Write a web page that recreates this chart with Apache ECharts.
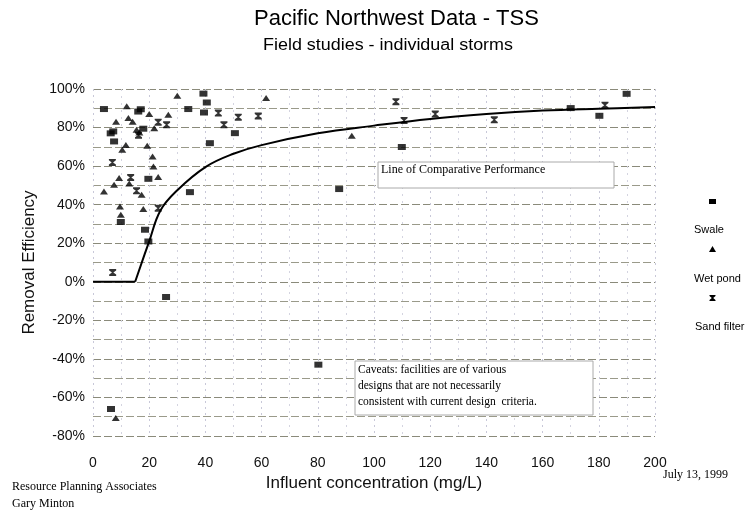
<!DOCTYPE html>
<html>
<head>
<meta charset="utf-8">
<script src="https://cdn.jsdelivr.net/npm/echarts@6/dist/echarts.min.js"></script>
<style>
  html, body { margin: 0; padding: 0; background: #fff; }
  #chart { width: 749px; height: 511px; }
</style>
</head>
<body>
<div id="chart"></div>
<script>
// x tick labels run 0..200 step 20, y ticks -80%..100% step 20
const xTicks = [0, 20, 40, 60, 80, 100, 120, 140, 160, 180, 200]
const yTicks = [-80, -60, -40, -20, 0, 20, 40, 60, 80, 100]

// [influent mg/L, removal %]
const swale = [
  [3.9, 89.6], [16.1, 88.3], [17.0, 89.5], [33.9, 89.6], [39.3, 97.6], [40.5, 93],
  [39.5, 87.8], [17.9, 79.4], [7.2, 78], [6.3, 77], [7.5, 72.8], [41.6, 71.9],
  [50.5, 77.1], [19.7, 53.4], [34.5, 46.5], [9.9, 31.0], [18.5, 27], [19.7, 20.9],
  [26, -7.9], [87.6, 48.1], [109.9, 69.9], [170, 90.1], [180.2, 86.1], [189.9, 97.5],
  [80.2, -43], [6.4, -66]
]

const wetPond = [
  [30.0, 96.5], [12.0, 91], [20.0, 87], [26.8, 86.6], [8.2, 83], [12.6, 85],
  [14.1, 83], [21.8, 79.7], [15.5, 78.8], [16.5, 77.4], [11.7, 71], [10.4, 68.5],
  [19.3, 70.5], [21.2, 65], [21.5, 59.8], [9.3, 53.8], [7.5, 50.3], [12.9, 51],
  [23.2, 54.3], [3.9, 46.8], [17.3, 45.1], [9.6, 39.1], [17.9, 37.7], [9.9, 34.8],
  [61.6, 95.3], [92.1, 75.7], [8.1, -70.7]
]

const sandFilter = [
  [23.2, 82.8], [26.2, 81.4], [16.2, 76], [6.9, 61.9], [13.4, 54.1], [15.5, 47.2],
  [23.2, 38.2], [7.0, 4.8], [44.6, 87.5], [51.7, 85.4], [58.8, 86], [46.6, 81.4],
  [107.8, 93.4], [110.7, 83.7], [121.8, 87], [142.8, 84], [182.2, 91.6]
]

// line of comparative performance
const comparativeFlat = [[0, 0], [15, 0]]
const comparativeCurve = [
  [15, 0], [20, 21], [24, 37], [30, 47.5], [40, 59.5], [50, 66.4], [60, 70.9],
  [80, 77], [100, 81], [120, 84.5], [140, 87], [160, 88.8], [180, 89.8], [200, 90.6]
]

const hourglass = 'path://M0,0H10V2L6,5L10,8V10H0V8L4,5L0,2Z'
const serif = '"Liberation Serif", "DejaVu Serif", serif'
const sans = '"Liberation Sans", Arial, sans-serif'

const chart = echarts.init(document.getElementById('chart'))

chart.setOption({
  backgroundColor: '#fff',
  animation: false,
  textStyle: { fontFamily: sans },
  grid: { left: 93, right: 94, top: 89, bottom: 75 },
  xAxis: {
    type: 'value',
    min: xTicks[0],
    max: xTicks[xTicks.length - 1],
    interval: 20,
    name: 'Influent concentration (mg/L)',
    nameLocation: 'middle',
    nameGap: 33,
    nameTextStyle: { fontSize: 17, color: '#111', fontFamily: sans },
    axisLine: { show: false },
    axisTick: { show: false },
    axisLabel: { fontSize: 14, color: '#111', margin: 20 },
    splitLine: { lineStyle: { color: '#c8c8d8', type: [2, 4] } },
    minorTick: { show: false, splitNumber: 2 },
    minorSplitLine: { show: true, lineStyle: { color: '#d4d4e0', type: [2, 5] } }
  },
  yAxis: {
    type: 'value',
    min: yTicks[0],
    max: yTicks[yTicks.length - 1],
    interval: 20,
    name: 'Removal Efficiency',
    nameLocation: 'middle',
    nameGap: 37,
    nameTextStyle: { fontSize: 17, color: '#111', fontFamily: sans },
    axisLine: { show: false },
    axisTick: { show: false },
    axisLabel: { fontSize: 14, color: '#111', margin: 8, formatter: '{value}%' },
    splitLine: { lineStyle: { color: '#8a8a7a', type: [8, 3] } },
    minorTick: { show: false, splitNumber: 2 },
    minorSplitLine: { show: true, lineStyle: { color: '#9a9a8a', type: [8, 3] } }
  },
  series: [
    {
      name: 'Line of Comparative Performance',
      type: 'line',
      data: comparativeFlat,
      showSymbol: false,
      lineStyle: { color: '#000', width: 2 },
      z: 2
    },
    {
      name: 'Line of Comparative Performance',
      type: 'line',
      data: comparativeCurve,
      smooth: 0.4,
      showSymbol: false,
      lineStyle: { color: '#000', width: 2 },
      z: 2
    },
    {
      name: 'Swale',
      type: 'scatter',
      data: swale,
      symbol: 'rect',
      symbolSize: [8, 6],
      itemStyle: { color: '#000' },
      z: 3
    },
    {
      name: 'Wet pond',
      type: 'scatter',
      data: wetPond,
      symbol: 'triangle',
      symbolSize: [8, 6],
      itemStyle: { color: '#000' },
      z: 3
    },
    {
      name: 'Sand filter',
      type: 'scatter',
      data: sandFilter,
      symbol: hourglass,
      symbolSize: [7, 7],
      itemStyle: { color: '#000' },
      z: 3
    }
  ],
  graphic: [
    // titles
    {
      type: 'text', x: 254, y: 8,
      style: { text: 'Pacific Northwest Data - TSS', font: '22px ' + sans, fill: '#000' }
    },
    {
      type: 'text', x: 263, y: 38, scaleX: 1.12,
      style: { text: 'Field studies - individual storms', font: '16px ' + sans, fill: '#000' }
    },
    // annotation boxes
    {
      type: 'rect', z: 10,
      shape: { x: 378, y: 162, width: 236, height: 26 },
      style: { fill: '#fff', stroke: '#aaa', lineWidth: 1 }
    },
    {
      type: 'text', z: 11, x: 381, y: 164,
      style: { text: 'Line of Comparative Performance', font: '12px ' + serif, fill: '#000' }
    },
    {
      type: 'rect', z: 10,
      shape: { x: 355, y: 361, width: 238, height: 54 },
      style: { fill: '#fff', stroke: '#aaa', lineWidth: 1 }
    },
    {
      type: 'text', z: 11, x: 358, y: 362,
      style: {
        text: 'Caveats: facilities are of various\ndesigns that are not necessarily\nconsistent with current design  criteria.',
        font: '11.5px ' + serif, lineHeight: 16, fill: '#000'
      }
    },
    // legend: symbol above label
    {
      type: 'rect', shape: { x: 709, y: 199, width: 7, height: 5 },
      style: { fill: '#000' }
    },
    {
      type: 'text', x: 694, y: 224,
      style: { text: 'Swale', font: '11px ' + sans, fill: '#000' }
    },
    {
      type: 'polygon', shape: { points: [[712.5, 246], [716, 252], [709, 252]] },
      style: { fill: '#000' }
    },
    {
      type: 'text', x: 694, y: 273,
      style: { text: 'Wet pond', font: '11px ' + sans, fill: '#000' }
    },
    {
      type: 'polygon',
      shape: { points: [[709.5, 295], [715.5, 295], [715.5, 296], [713.2, 298], [715.5, 300], [715.5, 301], [709.5, 301], [709.5, 300], [711.8, 298], [709.5, 296]] },
      style: { fill: '#000' }
    },
    {
      type: 'text', x: 695, y: 321,
      style: { text: 'Sand filter', font: '11px ' + sans, fill: '#000' }
    },
    // footer
    {
      type: 'text', x: 12, y: 481,
      style: { text: 'Resource Planning Associates', font: '12px ' + serif, fill: '#000' }
    },
    {
      type: 'text', x: 12, y: 498,
      style: { text: 'Gary Minton', font: '12px ' + serif, fill: '#000' }
    },
    {
      type: 'text', x: 663, y: 469,
      style: { text: 'July 13, 1999', font: '12px ' + serif, fill: '#000' }
    }
  ]
})
</script>
</body>
</html>
